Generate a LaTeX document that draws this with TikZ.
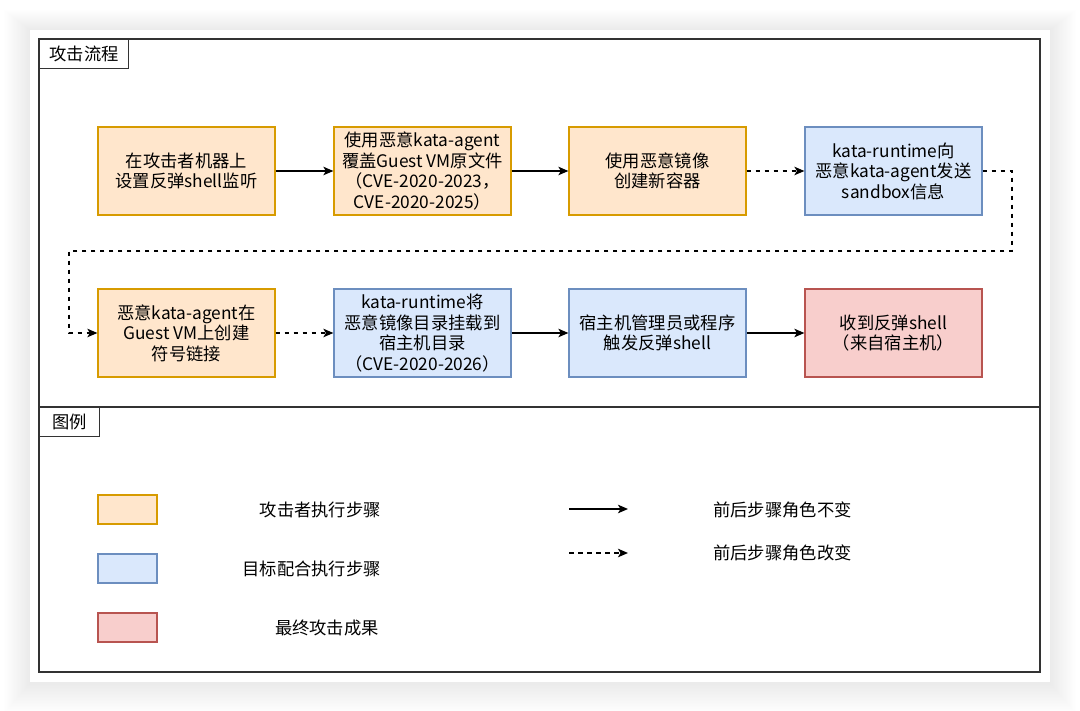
\documentclass[tikz,border=0pt]{standalone}
\usepackage{fontspec}
\setmainfont{Noto Sans CJK SC}
\usetikzlibrary{arrows.meta}
\definecolor{orfill}{HTML}{FFE6CC}
\definecolor{ordraw}{HTML}{D79B00}
\definecolor{blfill}{HTML}{DAE8FC}
\definecolor{bldraw}{HTML}{6C8EBF}
\definecolor{rdfill}{HTML}{F8CECC}
\definecolor{rddraw}{HTML}{B85450}
\definecolor{framec}{HTML}{333333}
\tikzset{
  stepbox/.style={rectangle, minimum width=177pt, minimum height=88pt, inner sep=0pt,
    line width=1.2pt, align=center, font=\fontsize{17.3}{20.5}\selectfont},
  atk/.style={stepbox, fill=orfill, draw=ordraw},
  tgt/.style={stepbox, fill=blfill, draw=bldraw},
  fin/.style={stepbox, fill=rdfill, draw=rddraw},
  legbox/.style={rectangle, minimum width=59pt, minimum height=29pt, inner sep=0pt, line width=1.2pt},
  titlebox/.style={rectangle, draw=framec, fill=white, line width=1.2pt, minimum height=29pt,
    inner sep=0pt, anchor=north west, font=\fontsize{17.3}{20}\selectfont},
  legtext/.style={font=\fontsize{17.3}{20}\selectfont, inner sep=0pt},
  solidarrow/.style={line width=1.3pt, -{Stealth[length=10pt,width=8.5pt,inset=2.5pt]}},
  dasharrow/.style={solidarrow, dash pattern=on 4.5pt off 4.5pt},
}
\begin{document}
\begin{tikzpicture}[x=1pt,y=-1pt]
\useasboundingbox (0,0) rectangle (1080,711);
\fill[white] (0,0) rectangle (1080,711);
% soft shadow of the card
\foreach \i in {1,...,20}{
  \fill[black, opacity=0.004] (30-1.3*\i,30-1.0*\i) rectangle (1050+1.3*\i,683+1.5*\i);
}
\fill[white] (30,30) rectangle (1050,682);
% frame
\draw[framec, line width=1.5pt] (39,39) rectangle (1040,672);
\draw[framec, line width=1.5pt] (39,407) -- (1040,407);
\node[titlebox, minimum width=89pt] (ttl1) at (39,39) {攻击流程};
\node[titlebox, minimum width=60pt] (ttl2) at (39,407) {图例};

% row 1
\node[atk] (n1) at (186.5,171) {在攻击者机器上\\设置反弹shell监听};
\node[atk] (n2) at (422.5,171) {使用恶意kata-agent\\覆盖Guest VM原文件\\（CVE-2020-2023，\\CVE-2020-2025）};
\node[atk] (n3) at (657.5,171) {使用恶意镜像\\创建新容器};
\node[tgt] (n4) at (893.5,171) {kata-runtime向\\恶意kata-agent发送\\sandbox信息};
% row 2
\node[atk] (n5) at (186.5,333) {恶意kata-agent在\\Guest VM上创建\\符号链接};
\node[tgt] (n6) at (422.5,333) {kata-runtime将\\恶意镜像目录挂载到\\宿主机目录\\（CVE-2020-2026）};
\node[tgt] (n7) at (657.5,333) {宿主机管理员或程序\\触发反弹shell};
\node[fin] (n8) at (893.5,333) {收到反弹shell\\（来自宿主机）};

\draw[solidarrow] (n1) -- (n2);
\draw[solidarrow] (n2) -- (n3);
\draw[dasharrow] (n3) -- (n4);
\coordinate (k1) at (1012,251);
\coordinate (k2) at (69,251);
\draw[dasharrow] (n4.east) -| (k1) -- (k2) |- (n5.west);
\draw[dasharrow] (n5) -- (n6);
\draw[solidarrow] (n6) -- (n7);
\draw[solidarrow] (n7) -- (n8);

% legend
\node[legbox, fill=orfill, draw=ordraw] (l1) at (127.5,509.5) {};
\node[legbox, fill=blfill, draw=bldraw] (l2) at (127.5,568.5) {};
\node[legbox, fill=rdfill, draw=rddraw] (l3) at (127.5,627.5) {};
\node[legtext, anchor=east] (lt1) at (381,510) {攻击者执行步骤};
\node[legtext, anchor=east] (lt2) at (381,569) {目标配合执行步骤};
\node[legtext, anchor=east] (lt3) at (379,628) {最终攻击成果};

\coordinate (a1s) at (569,509);
\coordinate (a1e) at (628,509);
\coordinate (a2s) at (569,553);
\coordinate (a2e) at (628,553);
\draw[solidarrow] (a1s) -- (a1e);
\draw[dasharrow] (a2s) -- (a2e);
\node[legtext, anchor=west] (lt4) at (713,510) {前后步骤角色不变};
\node[legtext, anchor=west] (lt5) at (713,553) {前后步骤角色改变};
\end{tikzpicture}
\end{document}
